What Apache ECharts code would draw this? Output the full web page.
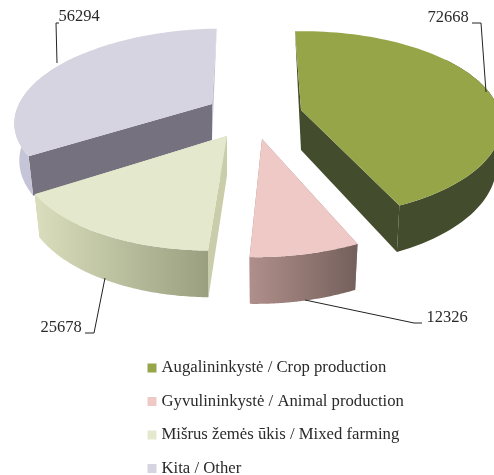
<!DOCTYPE html>
<html><head><meta charset="utf-8">
<style>html,body{margin:0;padding:0;background:#fff}#c{width:494px;height:475px}</style>
<script src="https://cdn.jsdelivr.net/npm/echarts@6/dist/echarts.min.js"></script>
</head><body><div id="c"></div>
<script>
const categories = ['Augalininkystė / Crop production','Gyvulininkystė / Animal production','Mišrus žemės ūkis / Mixed farming','Kita / Other'];
const values = [72668, 12326, 25678, 56294];
const topColors = ['#96a548','#eec9c6','#e4e9cd','#d6d4e0'];

// Layout of the exploded 3D pie (not data)
const startAngle = -2, persp = 0.154, shrink = 0.975;
const layouts = [
  {ax:301,ay:110,rx:198,k:91, lean:0,    d:40, z:2, wall:['#434c2c','#434c2c'], faceS:'#434c2c', faceE:'#434c2c', taperS:true, wallFrom:0.35, wallTo:1},
  {ax:262,ay:139,rx:205,k:100,lean:-0.06,d:39.5, z:3, wall:['#b08f8b','#74605b'], faceS:'#a08481', faceE:'#a08481', wallFrom:0, wallTo:1},
  {ax:227,ay:136,rx:203,k:97, lean:-0.12,d:39.5, z:4, wall:['#dadebd','#999f7f'], faceS:'#c9cda9', faceE:'#c9cda9', wallFrom:0, wallTo:1},
  {ax:212,ay:104,rx:193,k:87, lean:-0.14,d:36, z:1, wall:['#c6c4d7','#c6c4d7'], faceS:'#76717f', faceE:'#c0bdd2', taperE:true, wallFrom:0, wallTo:0.6}
];
const labelLayouts = [
  {x:448,y:18, line:[[486,92],[481,23],[472,23]]},
  {x:447,y:318,line:[[305,300],[414,323],[422,323]]},
  {x:61, y:328,line:[[105,278],[94,333],[85,333]]},
  {x:79, y:17, line:[[57,63],[56,23],[59,23]]}
];

const total = values.reduce((a,b)=>a+b,0);
function proj(l, deg){
  const t = deg*Math.PI/180, X = Math.sin(t), Y = -Math.cos(t), s = 1/(1-persp*Y);
  const yy = Y*s*l.k;
  const x = l.ax + X*s*l.rx + l.lean*yy, y = l.ay + yy;
  return {top:[x,y], bot:[l.ax+(x-l.ax)*shrink, y+l.d*s]};
}
function makeRender(i){
  return function(params, api){
    const v = api.value(0), l = layouts[i], lab = labelLayouts[i];
    let acc = 0; for(let j=0;j<i;j++) acc += values[j];
    const a0 = startAngle + acc/total*360, a1 = a0 + v/total*360;
    const tops=[], bots=[], wt=[], wb=[];
    for(let n=0;n<=80;n++){
      const f=n/80, p=proj(l,a0+(a1-a0)*f); tops.push(p.top); bots.push(p.bot);
      if(f>=l.wallFrom && f<=l.wallTo){ wt.push(p.top); wb.push(p.bot); }
    }
    const apexT=[l.ax,l.ay], apexB=[l.ax,l.ay+l.d];
    const poly=(pts,fill)=>({type:'polygon',shape:{points:pts},style:{fill:fill,stroke:null}});
    const wallFill = new echarts.graphic.LinearGradient(0,0,1,0,[{offset:0,color:l.wall[0]},{offset:1,color:l.wall[1]}]);
    const children=[
      poly(l.taperE?[apexT,tops[80],apexB]:[apexT,tops[80],bots[80],apexB],l.faceE),
      poly(l.taperS?[apexT,tops[0],apexB]:[apexT,tops[0],bots[0],apexB],l.faceS),
      poly(wt.concat(wb.slice().reverse()),wallFill),
      poly([apexT].concat(tops),topColors[i]),
      {type:'polyline',shape:{points:lab.line},style:{stroke:'#222',lineWidth:1,fill:null}},
      {type:'text',style:{x:lab.x,y:lab.y,text:String(v),fill:'#2a2a2a',font:'16.5px "Liberation Serif"',align:'center',verticalAlign:'middle'}}
    ];
    return {type:'group',children:children};
  };
}
const chart = echarts.init(document.getElementById('c'),null,{renderer:'canvas'});
chart.setOption({
  animation:false,
  legend:{
    orient:'vertical',left:147.5,top:359.5,height:140,padding:0,itemWidth:9,itemHeight:9,itemGap:16.5,
    icon:'rect',selectedMode:false,data:categories,
    textStyle:{fontFamily:'Liberation Serif',fontSize:16.7,color:'#2a2a2a',lineHeight:16}
  },
  series:categories.map((name,i)=>({
    type:'custom',name:name,coordinateSystem:'none',silent:true,z:layouts[i].z,
    itemStyle:{color:topColors[i]},
    renderItem:makeRender(i),data:[[values[i]]]
  }))
});
</script></body></html>
